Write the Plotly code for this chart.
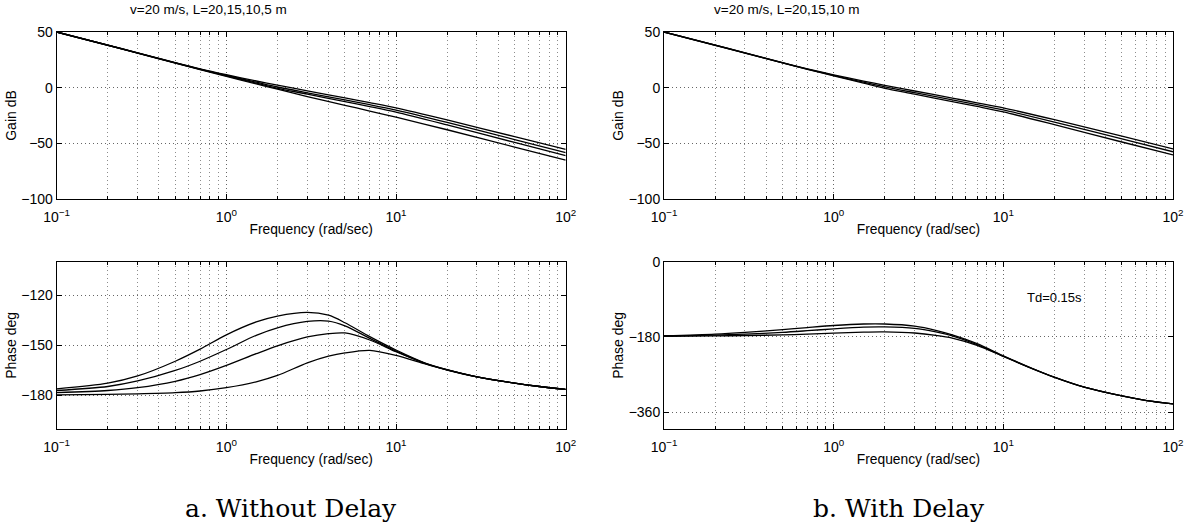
import plotly.graph_objects as go

# ---------------- data ----------------
freq_gain = [0.1, 0.2, 0.3, 0.5, 0.7, 1, 1.5, 2, 3, 5, 7, 10, 20, 50, 100]

gain_nodelay_L20 = [50, 38.2, 31.3, 22.5, 16.9, 11.6, 6.0, 2.3, -2.9, -9.2, -13.5, -18.2, -29.0, -44.0, -55.5]
gain_nodelay_L15 = [50, 38.2, 31.2, 22.3, 16.6, 11.0, 4.9, 0.6, -4.6, -11.0, -15.3, -20.2, -31.2, -46.6, -58.3]
gain_nodelay_L10 = [50, 38.1, 31.1, 22.2, 16.4, 10.6, 4.0, -0.6, -5.8, -12.6, -17.0, -22.0, -33.5, -49.2, -61.0]
gain_nodelay_L5 = [50, 38.1, 31.0, 22.1, 16.3, 10.2, 3.3, -1.4, -8.0, -15.8, -21.0, -26.5, -37.8, -53.3, -65.0]

gain_delay_L20 = [50, 38.2, 31.3, 22.5, 16.9, 11.5, 5.9, 2.1, -3.0, -9.3, -13.6, -18.2, -28.8, -43.6, -55.0]
gain_delay_L15 = [50, 38.2, 31.2, 22.3, 16.6, 11.0, 4.9, 0.7, -4.5, -10.9, -15.2, -20.0, -30.9, -46.1, -57.6]
gain_delay_L10 = [50, 38.1, 31.1, 22.2, 16.4, 10.6, 4.0, -0.6, -5.8, -12.5, -16.9, -21.8, -33.2, -48.8, -60.4]

freq_phase = [0.1, 0.2, 0.3, 0.5, 0.7, 1, 1.5, 2, 3, 4, 5, 7, 10, 15, 20, 30, 50, 70, 100]

phase_nodelay_L20 = [-176.0, -172.6, -168.3, -159.5, -152.3, -143.7, -136.0, -132.5, -130.3, -132.0, -136.5, -144.8, -152.8, -160.7, -164.5, -168.8, -172.6, -174.6, -176.3]
phase_nodelay_L15 = [-177.0, -174.6, -171.3, -165.0, -159.5, -152.5, -144.0, -139.5, -135.7, -135.5, -138.3, -145.8, -153.4, -160.9, -164.6, -168.8, -172.6, -174.6, -176.3]
phase_nodelay_L10 = [-178.3, -177.0, -175.3, -171.5, -167.5, -162.0, -155.0, -150.3, -145.0, -143.0, -142.6, -146.8, -153.8, -161.0, -164.7, -168.8, -172.6, -174.6, -176.3]
phase_nodelay_L5 = [-179.6, -179.3, -179.0, -178.3, -177.3, -175.3, -171.8, -168.0, -160.5, -156.5, -154.5, -153.0, -156.0, -161.3, -164.8, -168.9, -172.6, -174.6, -176.3]

phase_delay_L20 = [-177.0, -173.0, -169.0, -162.5, -157.5, -152.5, -149.0, -149.0, -154.0, -164.0, -175.0, -196.0, -225.0, -256.0, -276.0, -300.0, -321.0, -332.0, -340.0]
phase_delay_L15 = [-178.0, -175.5, -173.0, -169.0, -165.0, -160.5, -156.5, -156.0, -159.5, -168.0, -177.5, -198.5, -226.0, -256.5, -276.3, -300.0, -321.0, -332.0, -340.0]
phase_delay_L10 = [-178.5, -177.5, -176.5, -175.0, -173.0, -170.8, -168.5, -168.0, -170.5, -176.0, -182.5, -200.0, -226.5, -257.0, -276.5, -300.0, -321.0, -332.0, -340.0]

freq_ticks = [0.1, 1, 10, 100]
freq_ticktext = ["10<sup>−1</sup>", "10<sup>0</sup>", "10<sup>1</sup>", "10<sup>2</sup>"]
gain_ticks = [-100, -50, 0, 50]
phase_nd_ticks = [-180, -150, -120]
phase_d_ticks = [-360, -180, 0]

title_left = "v=20 m/s, L=20,15,10,5 m"
title_right = "v=20 m/s, L=20,15,10 m"
xlabel = "Frequency (rad/sec)"
caption_left = "a. Without Delay"
caption_right = "b. With Delay"
td_note = "Td=0.15s"

# ---------------- figure ----------------
W, H = 1188, 529
fig = go.Figure()

line = dict(color="black", width=1.3, shape="spline", smoothing=0.8)

def add(xs, ys, xa, ya):
    fig.add_trace(go.Scatter(x=xs, y=ys, mode="lines", line=line, xaxis=xa, yaxis=ya,
                             hoverinfo="skip", showlegend=False))

for g in (gain_nodelay_L20, gain_nodelay_L15, gain_nodelay_L10, gain_nodelay_L5):
    add(freq_gain, g, "x", "y")
for p in (phase_nodelay_L20, phase_nodelay_L15, phase_nodelay_L10, phase_nodelay_L5):
    add(freq_phase, p, "x2", "y2")
for g in (gain_delay_L20, gain_delay_L15, gain_delay_L10):
    add(freq_gain, g, "x3", "y3")
for p in (phase_delay_L20, phase_delay_L15, phase_delay_L10):
    add(freq_phase, p, "x4", "y4")

minor_vals = [m * d for d in (0.1, 1, 10) for m in range(2, 10)]

def px_x(a, b):
    return [a / W, b / W]

def px_y(top, bottom):
    return [1 - bottom / H, 1 - top / H]

left_dom = px_x(56.7, 565.7)
right_dom = px_x(664, 1173)
top_dom = px_y(32, 199)
bot_dom = px_y(261.7, 429)

GRID_DASH = "1px,3px"
FONT = "Liberation Sans, Arial, sans-serif"

def xaxis(domain, anchor):
    return dict(
        type="log", range=[-1, 2], domain=domain, anchor=anchor,
        tickvals=freq_ticks, ticktext=freq_ticktext,
        showline=True, linecolor="black", linewidth=1, mirror="allticks",
        ticks="inside", ticklen=5, tickcolor="black", tickwidth=1,
        ticklabelstandoff=5,
        showgrid=True, gridcolor="#666666", griddash=GRID_DASH, gridwidth=1,
        minor=dict(tickvals=minor_vals, ticks="inside", ticklen=3, tickcolor="black",
                   showgrid=True, gridcolor="#8c8c8c", griddash=GRID_DASH, gridwidth=1),
        zeroline=False, tickfont=dict(size=14, color="black"),
        title=dict(text=xlabel, font=dict(size=13.8, color="black"), standoff=0),
        automargin=False, fixedrange=True,
    )

def yaxis(domain, anchor, rng, ticks, title):
    return dict(
        range=rng, domain=domain, anchor=anchor, tickvals=ticks,
        showline=True, linecolor="black", linewidth=1, mirror="allticks",
        ticks="inside", ticklen=5, tickcolor="black",
        showgrid=True, gridcolor="#666666", griddash=GRID_DASH, gridwidth=1,
        zeroline=False, tickfont=dict(size=14, color="black"),
        title=dict(text=title, font=dict(size=14, color="black"), standoff=1),
        automargin=False, fixedrange=True,
    )

fig.update_layout(
    width=W, height=H, margin=dict(l=0, r=0, t=0, b=0),
    paper_bgcolor="white", plot_bgcolor="white", showlegend=False,
    font=dict(family=FONT, size=12, color="black"),
    xaxis=xaxis(left_dom, "y"),
    yaxis=yaxis(top_dom, "x", [-100, 50], gain_ticks, "Gain dB"),
    xaxis2=xaxis(left_dom, "y2"),
    yaxis2=yaxis(bot_dom, "x2", [-200, -100], phase_nd_ticks, "Phase deg"),
    xaxis3=xaxis(right_dom, "y3"),
    yaxis3=yaxis(top_dom, "x3", [-100, 50], gain_ticks, "Gain dB"),
    xaxis4=xaxis(right_dom, "y4"),
    yaxis4=yaxis(bot_dom, "x4", [-400, 0], phase_d_ticks, "Phase deg"),
)

def ann(text, xpx, ypx, size, family=None, xanchor="center"):
    f = dict(size=size, color="black")
    if family:
        f["family"] = family
    fig.add_annotation(text=text, x=xpx / W, y=1 - ypx / H, xref="paper", yref="paper",
                       showarrow=False, font=f, xanchor=xanchor, yanchor="middle")

ann(title_left, 208, 9, 13.5)
ann(title_right, 787, 9, 13.5)
ann(td_note, 1025, 297, 13, xanchor="left")
ann(caption_left, 291, 508, 25, family="DejaVu Serif, Liberation Serif, serif")
ann(caption_right, 899, 508, 25, family="DejaVu Serif, Liberation Serif, serif")

fig.write_html("out.html", config={"displayModeBar": False},
               post_script="document.body.style.margin='0';")
